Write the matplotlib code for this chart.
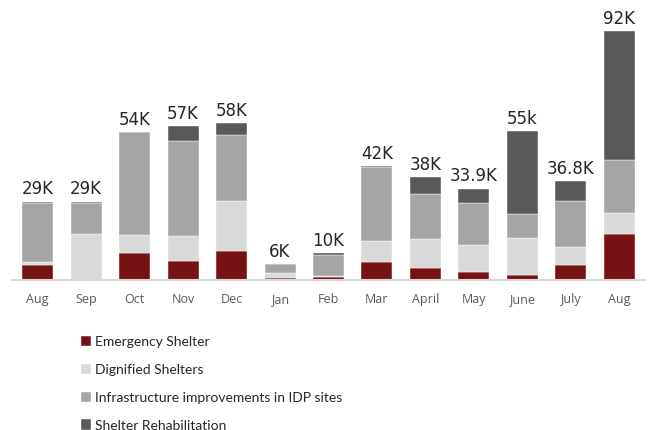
import matplotlib
matplotlib.use("Agg")
import matplotlib.pyplot as plt
import numpy as np

# monthly values in thousands
months = ["Aug", "Sep", "Oct", "Nov", "Dec", "Jan", "Feb", "Mar", "April", "May", "June", "July", "Aug"]
emergency = [5.7, 0.0, 10.0, 6.9, 10.7, 0.8, 1.1, 6.6, 4.6, 2.8, 1.9, 5.7, 16.9]
dignified = [1.1, 16.9, 6.5, 9.3, 18.6, 1.9, 0.3, 7.8, 10.4, 10.0, 13.6, 6.4, 7.8]
infrastructure = [21.5, 11.6, 38.1, 35.2, 24.4, 3.1, 7.8, 27.4, 16.9, 15.7, 8.9, 17.0, 19.6]
rehabilitation = [0.7, 0.5, 0.0, 5.6, 4.3, 0.0, 0.6, 0.2, 6.1, 5.3, 30.7, 7.5, 47.7]
total_labels = ["29K", "29K", "54K", "57K", "58K", "6K", "10K", "42K", "38K", "33.9K", "55k", "36.8K", "92K"]

series = [
    ("Emergency Shelter", emergency, "#761214"),
    ("Dignified Shelters", dignified, "#D9D9D9"),
    ("Infrastructure improvements in IDP sites", infrastructure, "#A5A5A5"),
    ("Shelter Rehabilitation", rehabilitation, "#595959"),
]

fig = plt.figure(figsize=(6.51, 4.31), dpi=100)
ax = fig.add_axes([12 / 651, 150 / 431, 633 / 651, 276 / 431])

x = np.arange(len(months))
bottom = np.zeros(len(months))
handles = []
for name, vals, col in series:
    b = ax.bar(x, vals, 0.64, bottom=bottom, color=col, label=name,
               edgecolor="white", linewidth=0.3)
    handles.append(b)
    bottom += np.array(vals)

for xi, top, lab in zip(x, bottom, total_labels):
    ax.annotate(lab, (xi, top), xytext=(0, 3), textcoords="offset points",
                ha="center", va="bottom", fontsize=12, color="#262626",
                family="DejaVu Sans")

ax.set_xlim(-0.53, 12.53)
ax.set_ylim(0, 102)
ax.set_xticks(x)
ax.set_xticklabels(months, fontsize=9, color="#595959", family="Open Sans")
ax.tick_params(axis="x", length=0, pad=9)
ax.set_yticks([])
for s in ["top", "right", "left"]:
    ax.spines[s].set_visible(False)
ax.spines["bottom"].set_color("#D9D9D9")
ax.spines["bottom"].set_linewidth(1.5)

leg = fig.legend(handles=handles, loc="upper left", bbox_to_anchor=(68 / 651, 1 - 324 / 431),
                 frameon=False, prop={"family": "Lato", "size": 10},
                 handlelength=0.75, handleheight=0.75, handletextpad=0.3,
                 labelspacing=1.15, labelcolor="#262626")

fig.savefig("out.png", dpi=100)
